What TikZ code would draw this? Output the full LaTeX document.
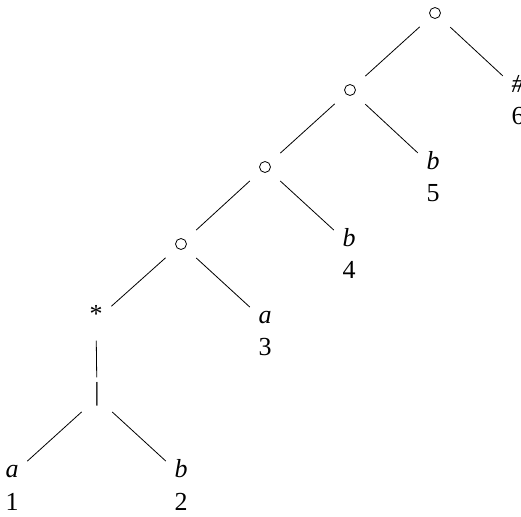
\documentclass[tikz,border=0pt]{standalone}
\usepackage{fontspec}
\setmainfont{Liberation Serif}
\begin{document}
\begin{tikzpicture}[x=1pt,y=-1pt,
  nd/.style={circle,minimum size=41pt,inner sep=0pt,font=\fontsize{26pt}{29pt}\selectfont,text height=0.7em,text depth=0.2em},
  lbl/.style={inner sep=0pt,font=\fontsize{26pt}{29pt}\selectfont,text height=0.7em,text depth=0.2em},
  edge/.style={line width=0.8pt},
  ring/.style={line width=0.8pt}]
\useasboundingbox (0,0) rectangle (521,516);
% internal circle nodes
\node[nd] (r1) at (435,13) {};
\node[nd] (r2) at (350,90) {};
\node[nd] (r3) at (265,167) {};
\node[nd] (r4) at (181,244) {};
\foreach \n in {r1,r2,r3,r4} \draw[ring] (\n.center) circle (5.5pt);
% other nodes
\node[nd] (st) at (96,320) {*};
\node[nd] (bar) at (97,398) {|};
\node[nd] (h) at (518,90) {\itshape\#};
\node[nd] (b5) at (433,167) {\itshape b};
\node[nd] (b4) at (349,244) {\itshape b};
\node[nd] (a3) at (265,321) {\itshape a};
\node[nd] (a1) at (12,475) {\itshape a};
\node[nd] (b2) at (181,475) {\itshape b};
% position numbers
\node[lbl] (n6) at (518,122) {6};
\node[lbl] (n5) at (433,199) {5};
\node[lbl] (n4) at (349,276) {4};
\node[lbl] (n3) at (265,353) {3};
\node[lbl] (n1) at (12,508) {1};
\node[lbl] (n2) at (181,508) {2};
% edges
\draw[edge] (r1) -- (r2);
\draw[edge] (r1) -- (h);
\draw[edge] (r2) -- (r3);
\draw[edge] (r2) -- (b5);
\draw[edge] (r3) -- (r4);
\draw[edge] (r3) -- (b4);
\draw[edge] (r4) -- (st);
\draw[edge] (r4) -- (a3);
\draw[edge] (st) -- (bar);
\draw[edge] (bar) -- (a1);
\draw[edge] (bar) -- (b2);
\end{tikzpicture}
\end{document}
